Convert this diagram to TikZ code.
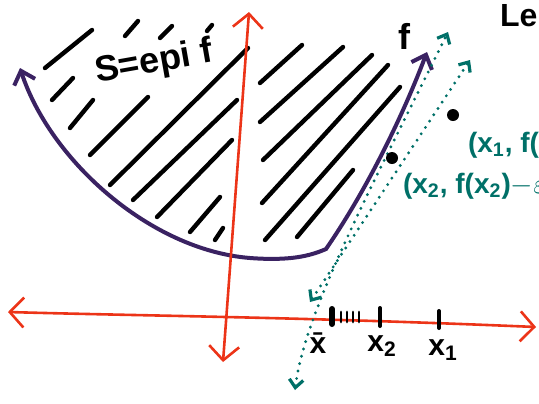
\documentclass[tikz,border=0pt]{standalone}
\usepackage{fontspec}
\setmainfont{Liberation Sans}
\usetikzlibrary{arrows.meta}
\definecolor{epired}{RGB}{236,52,24}
\definecolor{epipurple}{RGB}{58,34,98}
\definecolor{epiteal}{RGB}{0,112,104}

\begin{document}
\begin{tikzpicture}[x=0.5pt,y=-0.5pt,
    hatch/.style={black,line width=2.2pt,line cap=round},
    redaxis/.style={epired,line width=1.3pt,{Straight Barb[length=7pt,width=15pt]}-{Straight Barb[length=7pt,width=15pt]}},
    fcurve/.style={epipurple,line width=2pt,{Straight Barb[length=6pt,width=11pt]}-{Straight Barb[length=6pt,width=11pt]}},
    tangent/.style={epiteal,line width=1.6pt,dash pattern=on 0pt off 3.8pt,line cap=round,{Straight Barb[length=4pt,width=7pt]}-{Straight Barb[length=4pt,width=7pt]}},
    tick/.style={black,line width=2pt,line cap=round},
    dotpt/.style={circle,fill=black,inner sep=0pt,minimum size=6pt},
    teallab/.style={epiteal,anchor=west,font=\fontsize{14}{14}\selectfont\bfseries},
    ticklab/.style={black,font=\fontsize{15}{15}\selectfont\bfseries}]
    \useasboundingbox (0,0) rectangle (539,403);
    \clip (0,0) rectangle (539,403);
    % hatching of the epigraph
    \foreach \xa/\ya/\xb/\yb in {45/68/92/30, 125/36/138/21, 160/38/172/26, 207/31/212/25,
            52/100/73/78, 70/128/93/100, 90/155/148/97, 110/185/248/48, 133/200/237/100,
            157/217/232/140, 190/232/220/197, 215/240/223/228,
            260/83/302/45, 260/122/343/47, 263/160/372/55, 262/203/388/65,
            265/240/400/87, 297/237/353/170}
        \draw[hatch] (\xa,\ya) -- (\xb,\yb);
    \node[font=\fontsize{18}{18}\selectfont\bfseries,rotate=10,inner sep=1pt] (epilab) at (154,63) {S=epi f};
    % the function f
    \coordinate (fleft) at (20,68);
    \coordinate (kink) at (326,249);
    \coordinate (ftip) at (427,52);
    \draw[fcurve] (fleft) .. controls (50,160) and (150,250) .. (250,258)
        .. controls (290,261) and (310,256) .. (kink)
        .. controls (370,185) and (405,110) .. (ftip);
    \node[font=\fontsize{18}{18}\selectfont\bfseries] (flab) at (404,36) {f};
    % axes
    \coordinate (xleft) at (8,312);
    \coordinate (xright) at (536,327);
    \draw[redaxis] (xleft) .. controls (150,316) and (300,317) .. (xright);
    \coordinate (ybot) at (223,362);
    \coordinate (ytop) at (249,12);
    \draw[redaxis] (ybot) -- (ytop);
    % dotted lines
    \coordinate (taone) at (295,390);
    \coordinate (tatwo) at (448,32);
    \draw[tangent] (taone) .. controls (305,310) and (375,180) .. (tatwo);
    \coordinate (tbone) at (310,302);
    \coordinate (tbtwo) at (470,60);
    \draw[tangent] (tbone) -- (tbtwo);
    % points and labels
    \node[dotpt] (pone) at (453,115) {};
    \node[dotpt] (ptwo) at (392,158) {};
    \node[teallab] (ponelab) at (461,145) {(x\textsubscript{1}, f(x\textsubscript{1}))};
    \node[teallab] (ptwolab) at (396,186) {(x\textsubscript{2}, f(x\textsubscript{2})$-\varepsilon$)};
    \node[anchor=base west,font=\fontsize{16}{16}\selectfont\bfseries] (letlab) at (493,26) {Le};
    % ticks on the axis
    \draw[tick,line width=3pt] (332,309) -- (332,324);
    \foreach \xx in {341,347,353,359}
        \draw[tick,line width=1.4pt] (\xx,312) -- (\xx,322);
    \draw[tick] (380,308) -- (380,326);
    \draw[tick] (439,311) -- (439,328);
    \node[ticklab] (xbarlab) at (318,343) {\={x}};
    \node[ticklab] (xtwolab) at (382,346) {x\textsubscript{2}};
    \node[ticklab] (xonelab) at (443,350) {x\textsubscript{1}};
\end{tikzpicture}
\end{document}
